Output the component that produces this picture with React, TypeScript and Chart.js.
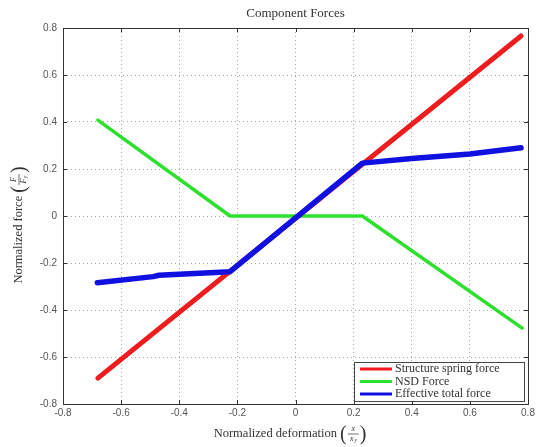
import React, { useEffect, useRef } from "react";
import { Chart, registerables } from "chart.js";

Chart.register(...registerables);

const chartTitle = "Component Forces";
const xAxisTitle = "Normalized deformation";
const yAxisTitle = "Normalized force";

const xTicks = [-0.8, -0.6, -0.4, -0.2, 0, 0.2, 0.4, 0.6, 0.8];
const yTicks = [-0.8, -0.6, -0.4, -0.2, 0, 0.2, 0.4, 0.6, 0.8];

const seriesLabels = ["Structure spring force", "NSD Force", "Effective total force"];
const seriesColors = ["#ee1c1c", "#2ee02e", "#1010e0"];

const structX = [-0.68, 0.776];
const structY = [-0.69, 0.766];

const nsdX = [-0.68, -0.225, 0.23, 0.78];
const nsdY = [0.408, 0, 0, -0.477];

const effX = [-0.682, -0.49, -0.47, -0.225, 0.23, 0.4, 0.6, 0.776];
const effY = [-0.284, -0.258, -0.252, -0.237, 0.225, 0.245, 0.264, 0.29];

const SERIF = "'Liberation Serif', 'DejaVu Serif', serif";
const SANS = "'Liberation Sans', Arial, sans-serif";

function toPoints(xs: number[], ys: number[]) {
  return xs.map((x, i) => ({ x, y: ys[i] }));
}

function fmt(v: number) {
  if (Math.abs(v) < 1e-9) return "0";
  return v.toFixed(1);
}

// draws "label (num / den_sub)" centred at (cx, cy) in current transform
function drawLabelWithFraction(
  ctx: CanvasRenderingContext2D,
  cx: number,
  cy: number,
  text: string,
  num: string,
  den: string,
  sub: string
) {
  ctx.save();
  ctx.fillStyle = "#333";
  ctx.strokeStyle = "#333";
  ctx.textBaseline = "middle";
  ctx.textAlign = "left";
  ctx.font = `12.5px ${SERIF}`;
  const wText = ctx.measureText(text + " ").width;
  ctx.font = `20px ${SERIF}`;
  const wParen = ctx.measureText("(").width;
  const fracW = 11;
  const total = wText + wParen * 2 + fracW + 2;
  let x = cx - total / 2;
  ctx.font = `12.5px ${SERIF}`;
  ctx.fillText(text + " ", x, cy);
  x += wText;
  ctx.font = `20px ${SERIF}`;
  ctx.fillText("(", x, cy + 1);
  x += wParen + 1;
  // fraction
  ctx.font = `italic 8px ${SERIF}`;
  ctx.textAlign = "center";
  ctx.fillText(num, x + fracW / 2, cy - 5);
  ctx.lineWidth = 0.7;
  ctx.beginPath();
  ctx.moveTo(x, cy);
  ctx.lineTo(x + fracW, cy);
  ctx.stroke();
  ctx.fillText(den, x + fracW / 2 - 1.5, cy + 5);
  ctx.font = `italic 5.5px ${SERIF}`;
  ctx.fillText(sub, x + fracW / 2 + 2.5, cy + 7);
  x += fracW + 1;
  ctx.textAlign = "left";
  ctx.font = `20px ${SERIF}`;
  ctx.fillText(")", x, cy + 1);
  ctx.restore();
}

const decorPlugin = {
  id: "decor",
  afterDraw(chart: any) {
    const ctx: CanvasRenderingContext2D = chart.ctx;
    const { left, right, top, bottom } = chart.chartArea;
    const xs = chart.scales.x;
    const ys = chart.scales.y;
    ctx.save();
    // frame
    ctx.strokeStyle = "#333";
    ctx.lineWidth = 1;
    ctx.strokeRect(Math.round(left) + 0.5, Math.round(top) + 0.5, Math.round(right - left), Math.round(bottom - top));
    // inward ticks
    ctx.beginPath();
    const tl = 4;
    xTicks.forEach((v) => {
      const px = Math.round(xs.getPixelForValue(v)) + 0.5;
      ctx.moveTo(px, bottom);
      ctx.lineTo(px, bottom - tl);
      ctx.moveTo(px, top);
      ctx.lineTo(px, top + tl);
    });
    yTicks.forEach((v) => {
      const py = Math.round(ys.getPixelForValue(v)) + 0.5;
      ctx.moveTo(left, py);
      ctx.lineTo(left + tl, py);
      ctx.moveTo(right, py);
      ctx.lineTo(right - tl, py);
    });
    ctx.stroke();

    // title
    ctx.fillStyle = "#333";
    ctx.font = `13px ${SERIF}`;
    ctx.textAlign = "center";
    ctx.textBaseline = "middle";
    ctx.fillText(chartTitle, (left + right) / 2, 14);

    // axis titles
    drawLabelWithFraction(ctx, 290, 434, xAxisTitle, "x", "x", "y");
    ctx.save();
    ctx.translate(19, 225);
    ctx.rotate(-Math.PI / 2);
    drawLabelWithFraction(ctx, 0, 0, yAxisTitle, "F", "F", "y");
    ctx.restore();

    // legend
    const bw = 170;
    const bh = 39;
    const bx = right - 4 - bw;
    const by = bottom - 3 - bh;
    ctx.fillStyle = "#ffffff";
    ctx.fillRect(bx, by, bw, bh);
    ctx.strokeStyle = "#444";
    ctx.lineWidth = 1;
    ctx.strokeRect(Math.round(bx) + 0.5, Math.round(by) + 0.5, bw, bh);
    ctx.font = `12px ${SERIF}`;
    ctx.textAlign = "left";
    ctx.textBaseline = "middle";
    seriesLabels.forEach((lab, i) => {
      const yy = by + 7 + i * 12.5;
      ctx.strokeStyle = seriesColors[i];
      ctx.lineWidth = 3;
      ctx.beginPath();
      ctx.moveTo(bx + 6, yy);
      ctx.lineTo(bx + 38, yy);
      ctx.stroke();
      ctx.fillStyle = "#333";
      ctx.fillText(lab, bx + 41, yy);
    });
    ctx.restore();
  },
};

export default function App() {
  const canvasRef = useRef<HTMLCanvasElement | null>(null);

  useEffect(() => {
    document.body.style.margin = "0";
    const canvas = canvasRef.current;
    if (!canvas) return;
    const chart = new Chart(canvas, {
      type: "scatter",
      data: {
        datasets: [
          {
            label: seriesLabels[0],
            data: toPoints(structX, structY),
            showLine: true,
            borderColor: seriesColors[0],
            backgroundColor: seriesColors[0],
            borderWidth: 5,
            pointRadius: 0,
            order: 1,
          },
          {
            label: seriesLabels[1],
            data: toPoints(nsdX, nsdY),
            showLine: true,
            borderColor: seriesColors[1],
            backgroundColor: seriesColors[1],
            borderWidth: 3.5,
            pointRadius: 0,
            order: 2,
          },
          {
            label: seriesLabels[2],
            data: toPoints(effX, effY),
            showLine: true,
            borderColor: seriesColors[2],
            backgroundColor: seriesColors[2],
            borderWidth: 5.5,
            pointRadius: 0,
            order: 0,
          },
        ],
      },
      options: {
        responsive: false,
        animation: false,
        layout: { padding: 0 },
        plugins: {
          legend: { display: false },
          title: { display: false },
          tooltip: { enabled: false },
        },
        elements: { line: { tension: 0, borderCapStyle: "round", borderJoinStyle: "round" } },
        scales: {
          x: {
            type: "linear",
            min: -0.8,
            max: 0.8,
            afterBuildTicks: (s: any) => {
              s.ticks = xTicks.map((v) => ({ value: v }));
            },
            afterFit: (s: any) => {
              s.height = 43;
              s.paddingLeft = 0;
              s.paddingRight = 9;
              s.paddingTop = 0;
              s.paddingBottom = 0;
            },
            ticks: {
              callback: (v: any) => fmt(Number(v)),
              font: { family: SANS, size: 10 },
              color: "#555",
              padding: 3,
              maxRotation: 0,
            },
            grid: { color: "#a8a8a8", lineWidth: 1, drawTicks: false },
            border: { display: false, dash: [1, 3] },
          },
          y: {
            type: "linear",
            min: -0.8,
            max: 0.8,
            afterBuildTicks: (s: any) => {
              s.ticks = yTicks.map((v) => ({ value: v }));
            },
            afterFit: (s: any) => {
              s.width = 63;
              s.paddingTop = 28;
              s.paddingBottom = 0;
              s.paddingLeft = 0;
              s.paddingRight = 0;
            },
            ticks: {
              callback: (v: any) => fmt(Number(v)),
              font: { family: SANS, size: 10 },
              color: "#555",
              padding: 6,
            },
            grid: { color: "#a8a8a8", lineWidth: 1, drawTicks: false },
            border: { display: false, dash: [1, 3] },
          },
        },
      },
      plugins: [decorPlugin],
    } as any);
    return () => chart.destroy();
  }, []);

  return (
    <div style={{ width: 537, height: 447 }}>
      <canvas ref={canvasRef} width={537} height={447} style={{ display: "block" }} />
    </div>
  );
}
